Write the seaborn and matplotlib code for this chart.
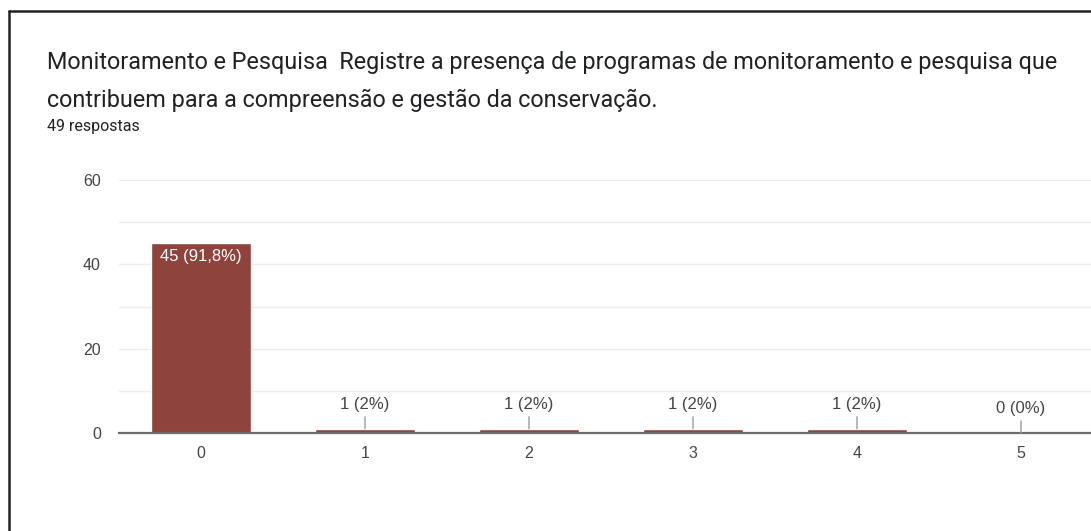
import matplotlib
matplotlib.use("Agg")
import matplotlib.pyplot as plt
from matplotlib.lines import Line2D
import seaborn as sns
import pandas as pd

# Dados do gráfico
CATEGORIAS = ["0", "1", "2", "3", "4", "5"]
RESPOSTAS = [45, 1, 1, 1, 1, 0]
ROTULOS = ["45 (91,8%)", "1 (2%)", "1 (2%)", "1 (2%)", "1 (2%)", "0 (0%)"]
Y_TICKS = [0, 20, 40, 60]
TITULO_1 = "Monitoramento e Pesquisa  Registre a presença de programas de monitoramento e pesquisa que"
TITULO_2 = "contribuem para a compreensão e gestão da conservação."
SUBTITULO = "49 respostas"

COR_BARRA = "#8e443d"
COR_TEXTO = "#444444"
FONTE_NUM = ["Liberation Sans", "DejaVu Sans"]

sns.set_theme(style="white")
plt.rcParams["font.family"] = ["Roboto", "DejaVu Sans"]

df = pd.DataFrame({"cat": CATEGORIAS, "n": RESPOSTAS})

W, H = 1091, 531
fig = plt.figure(figsize=(W / 100, H / 100), dpi=100)

# posição dos eixos em pixels
left, right, top, bottom = 119, 1091, 180, 433
ax = fig.add_axes([left / W, (H - bottom) / H, (right - left) / W, (bottom - top) / H])

sns.barplot(data=df, x="cat", y="n", color=COR_BARRA, width=0.61, saturation=1, ax=ax)

ax.set_ylim(0, 60)
ax.set_xlim(-0.5, 5.5 - 12 / 164)
ax.set_yticks(Y_TICKS)
ax.set_yticks(range(0, 61, 10), minor=True)
ax.grid(axis="y", which="both", color="#ececec", lw=1)
ax.set_axisbelow(True)
ax.set_xlabel("")
ax.set_ylabel("")
for s in ["top", "right", "left"]:
    ax.spines[s].set_visible(False)
ax.spines["bottom"].set_color("#6b6b6b")
ax.spines["bottom"].set_linewidth(1.6)
ax.tick_params(axis="y", which="both", length=0, pad=13, labelsize=11.5, labelcolor=COR_TEXTO)
ax.tick_params(axis="x", length=0, pad=9, labelsize=11.5, labelcolor=COR_TEXTO)
for lbl in ax.get_xticklabels() + ax.get_yticklabels():
    lbl.set_family(FONTE_NUM)

# rótulos das barras
for i, (v, txt) in enumerate(zip(RESPOSTAS, ROTULOS)):
    if v > 10:
        ax.annotate(txt, xy=(i, v), xytext=(0, -4), textcoords="offset points",
                    ha="center", va="top", color="white", fontsize=12, family=FONTE_NUM)
    else:
        ax.annotate(txt, xy=(i, v), xytext=(0, 12), textcoords="offset points",
                    ha="center", va="bottom", color=COR_TEXTO, fontsize=12, family=FONTE_NUM,
                    arrowprops=dict(arrowstyle="-", color="#9a9a9a", lw=1,
                                    shrinkA=1, shrinkB=0))

# título e subtítulo
fig.text(47 / W, 1 - 62 / H, TITULO_1, ha="left", va="center", fontsize=16.8, color="#202124")
fig.text(47 / W, 1 - 100 / H, TITULO_2, ha="left", va="center", fontsize=16.8, color="#202124")
fig.text(47 / W, 1 - 127 / H, SUBTITULO, ha="left", va="center", fontsize=11.5, color="#202124")

# moldura (bordas superior e esquerda)
fig.add_artist(Line2D([9 / W, 9 / W], [0, 1 - 11 / H], color="#222222", lw=1.8,
                      transform=fig.transFigure))
fig.add_artist(Line2D([9 / W, 1], [1 - 11 / H, 1 - 11 / H], color="#222222", lw=1.8,
                      transform=fig.transFigure))

fig.savefig("out.png", dpi=100)
